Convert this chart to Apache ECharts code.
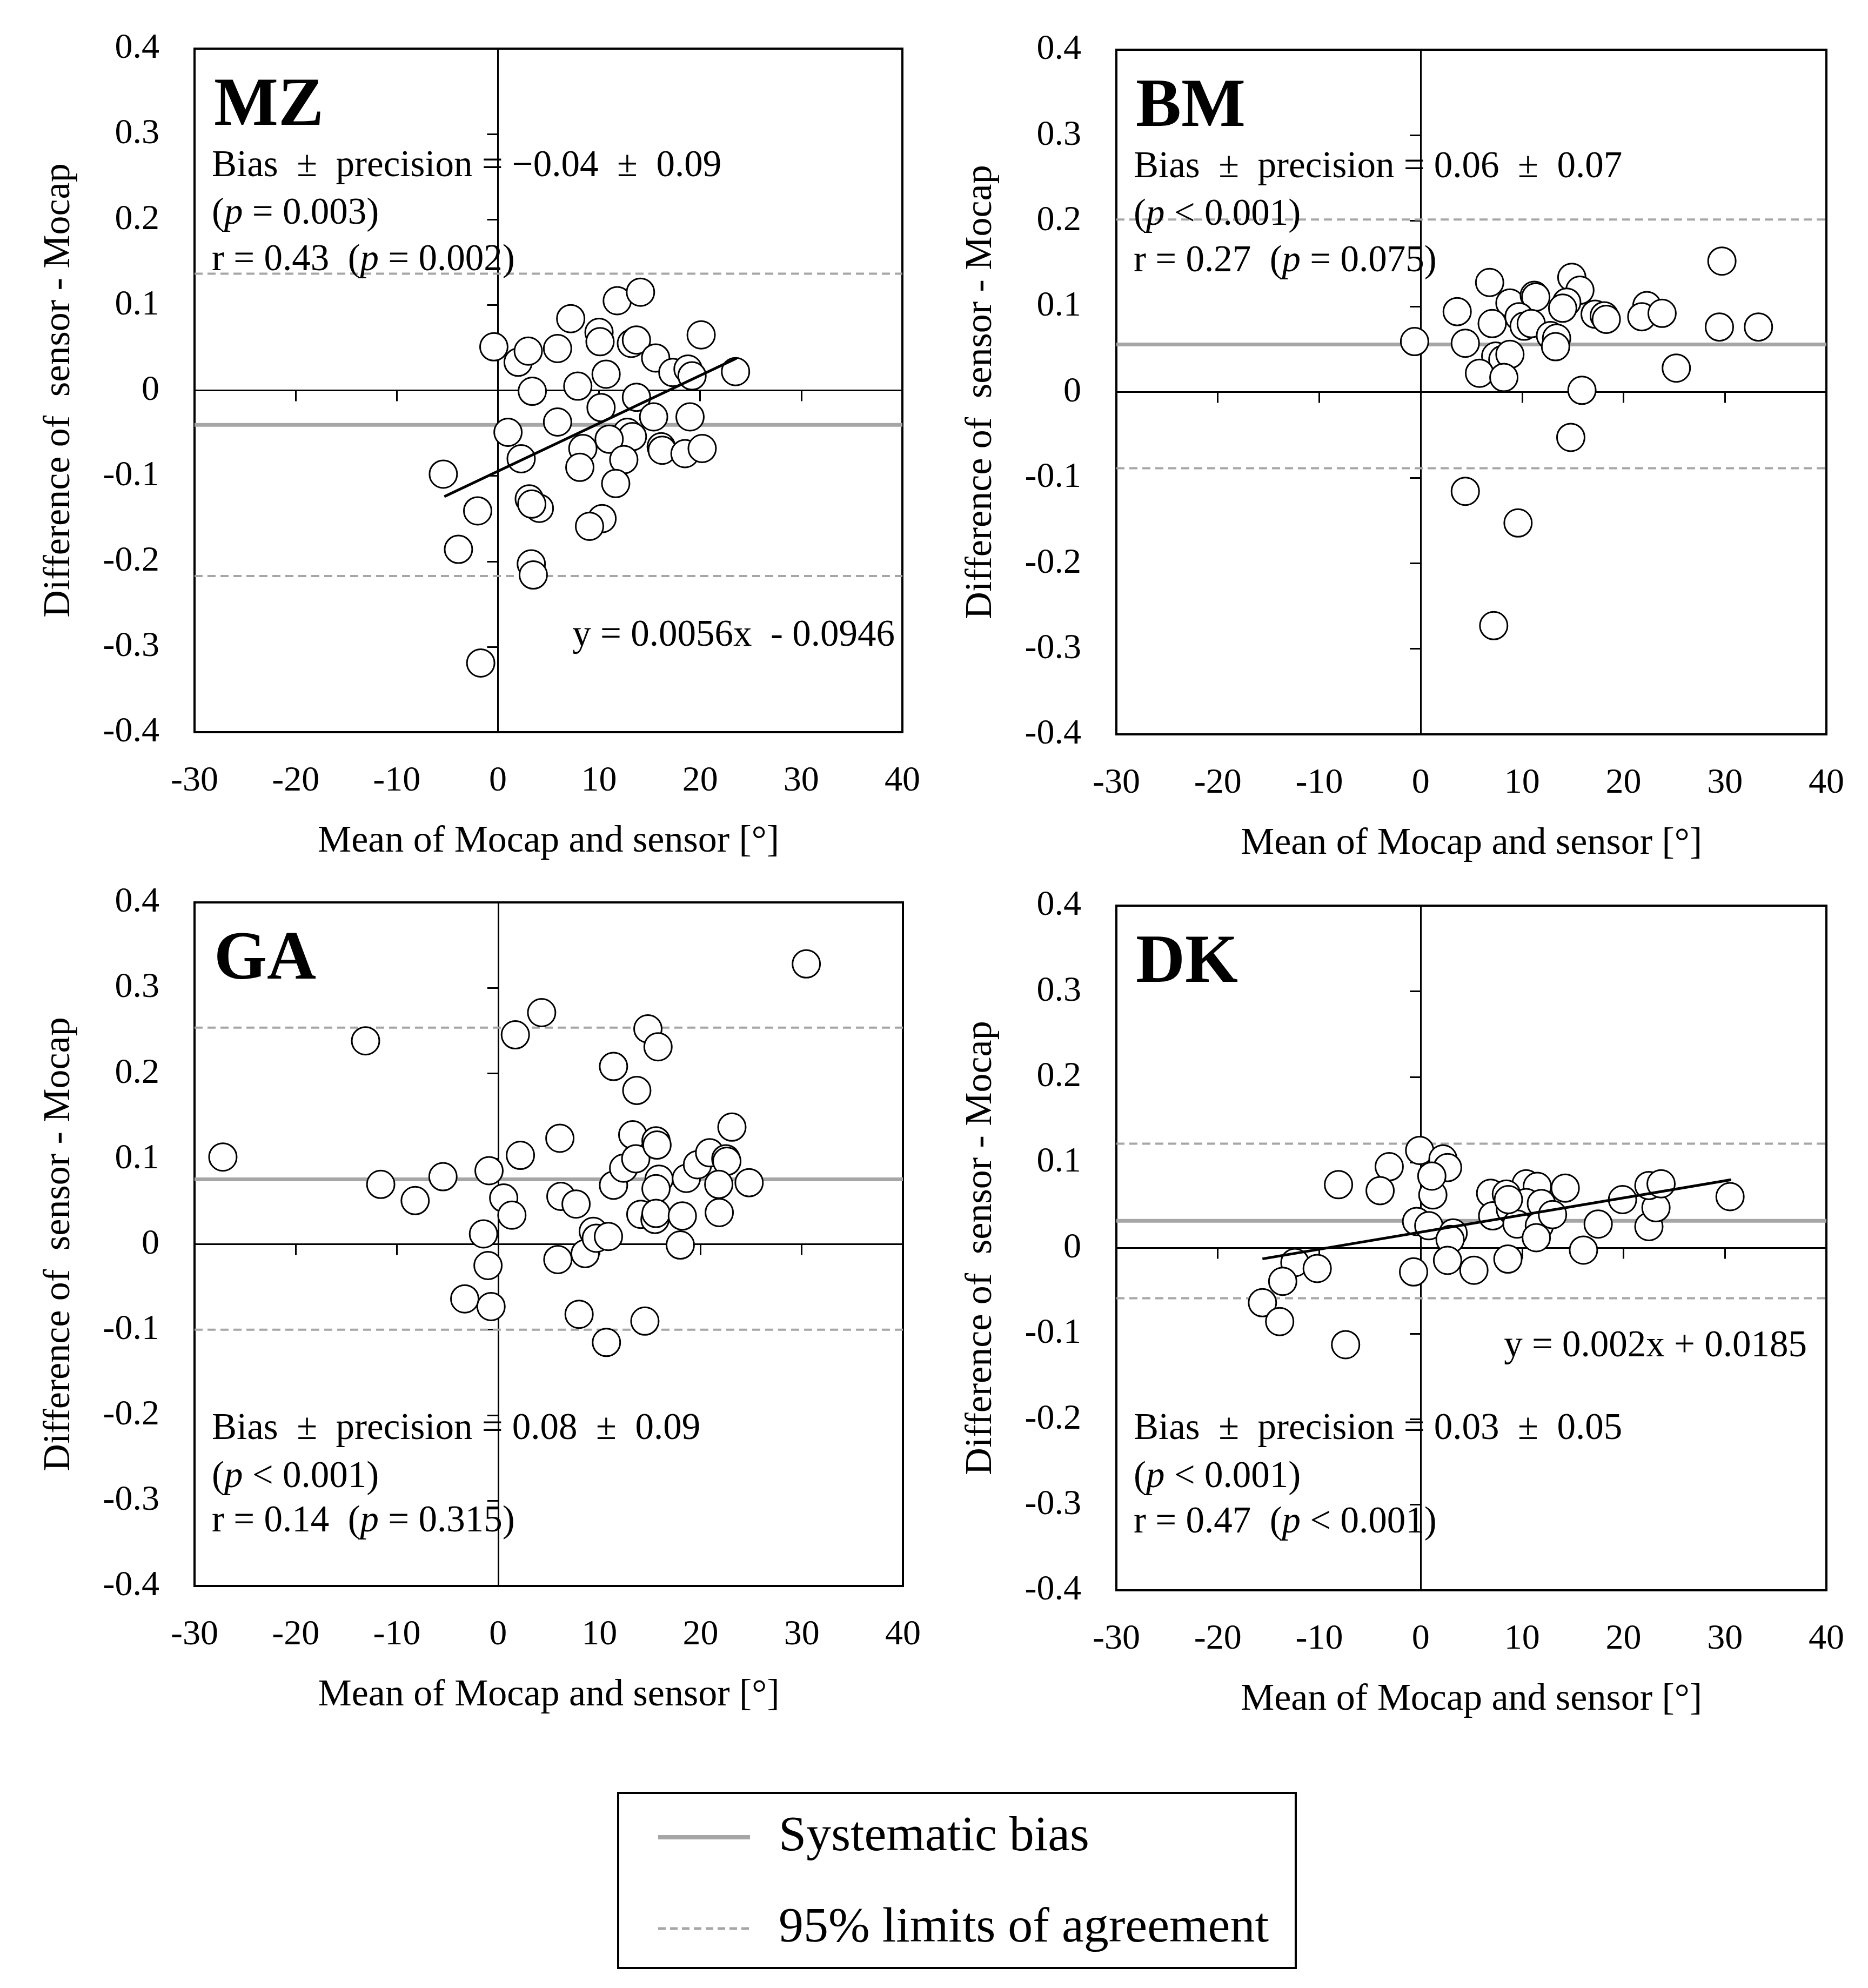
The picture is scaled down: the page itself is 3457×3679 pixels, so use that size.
<!DOCTYPE html>
<html><head><meta charset="utf-8">
<script src="https://cdn.jsdelivr.net/npm/echarts@6/dist/echarts.min.js"></script>
<style>html,body{margin:0;padding:0;background:#fff}#c{width:3457px;height:3679px}</style>
</head><body><div id="c"></div>
<script>
// ---------------- data ----------------
const panelNames = ['MZ', 'BM', 'GA', 'DK'];

const mzX = [-0.4, 2.0, 3.0, 5.9, 7.2, 10.0, 10.1, 11.8, 14.1, 13.2, 13.7, 15.6, 20.1, 17.3, 18.8, 19.2, 23.5, 3.4, 7.9, 10.7, 13.7, 10.2, 15.4, 19.0, 5.9, 1.0, 12.8, 13.3, 11.0, 16.15, 16.25, 18.5, 20.2, 8.4, 12.45, 2.3, 8.1, 11.65, 3.1, 4.1, 3.35, 10.3, 9.06, -5.4, -2.0, -3.9, 3.3, 3.5, -1.7];
const mzY = [0.051, 0.033, 0.046, 0.049, 0.084, 0.068, 0.057, 0.105, 0.115, 0.055, 0.059, 0.038, 0.065, 0.021, 0.025, 0.017, 0.022, -0.001, 0.005, 0.019, -0.008, -0.020, -0.031, -0.031, -0.037, -0.049, -0.049, -0.054, -0.057, -0.066, -0.070, -0.074, -0.068, -0.068, -0.081, -0.080, -0.090, -0.109, -0.127, -0.138, -0.133, -0.150, -0.159, -0.098, -0.141, -0.186, -0.203, -0.216, -0.319];

const bmX = [-0.6, 3.6, 6.8, 4.4, 8.8, 11.2, 11.35, 14.9, 15.7, 14.4, 14.0, 17.2, 18.1, 18.3, 22.3, 21.8, 23.8, 29.7, 29.45, 33.3, 25.2, 15.9, 7.05, 9.7, 10.2, 10.9, 12.8, 13.4, 13.3, 7.4, 8.1, 8.8, 5.8, 8.2, 14.8, 4.4, 9.6, 7.2];
const bmY = [0.059, 0.094, 0.128, 0.057, 0.104, 0.113, 0.111, 0.134, 0.119, 0.105, 0.098, 0.091, 0.089, 0.085, 0.101, 0.088, 0.092, 0.153, 0.076, 0.076, 0.028, 0.002, 0.080, 0.088, 0.077, 0.080, 0.066, 0.063, 0.053, 0.042, 0.038, 0.044, 0.022, 0.017, -0.053, -0.116, -0.153, -0.273];

const gaX = [30.45, 4.3, 1.7, -13.1, 14.8, 15.8, 11.4, 13.7, -27.2, -11.6, -8.2, -5.45, -0.9, 2.2, 6.1, 0.55, 1.36, -1.45, -1.0, -3.3, -0.7, 6.2, 7.7, 5.9, 8.6, 9.4, 9.7, 10.9, 8.0, 10.7, 14.5, 11.4, 12.4, 13.3, 13.6, 15.6, 15.7, 15.9, 15.6, 14.1, 15.5, 15.6, 18.2, 18.0, 18.6, 19.7, 20.9, 22.5, 22.6, 21.8, 21.85, 23.1, 24.8];
const gaY = [0.328, 0.271, 0.245, 0.238, 0.252, 0.231, 0.208, 0.180, 0.102, 0.070, 0.051, 0.079, 0.086, 0.104, 0.124, 0.054, 0.034, 0.012, -0.025, -0.064, -0.073, 0.056, 0.047, -0.018, -0.011, 0.015, 0.007, 0.009, -0.082, -0.115, -0.090, 0.069, 0.089, 0.128, 0.100, 0.121, 0.116, 0.076, 0.065, 0.035, 0.029, 0.036, 0.033, -0.001, 0.077, 0.093, 0.107, 0.100, 0.097, 0.070, 0.037, 0.137, 0.072];

const dkX = [-0.1, 2.2, 2.65, -3.1, -4.0, 1.2, 1.1, -0.4, 0.8, 3.2, 2.9, 2.65, -0.7, 5.25, 8.6, 6.9, 7.1, 8.85, 10.4, 11.5, 10.4, 8.45, 11.9, 9.5, 11.7, 11.4, 13.0, 14.25, 17.5, 16.05, 19.9, 22.5, 23.2, 22.5, 23.7, 30.5, -12.4, -10.2, -13.6, -15.6, -13.9, -7.4, -8.1, 8.65];
const dkY = [0.114, 0.104, 0.094, 0.095, 0.067, 0.062, 0.084, 0.031, 0.026, 0.0175, 0.010, -0.0145, -0.028, -0.026, -0.013, 0.064, 0.0375, 0.045, 0.075, 0.072, 0.053, 0.063, 0.052, 0.028, 0.026, 0.012, 0.039, 0.070, 0.028, -0.0025, 0.0565, 0.025, 0.047, 0.073, 0.075, 0.060, -0.017, -0.024, -0.039, -0.064, -0.086, -0.113, 0.074, 0.0565];

const panelX = [mzX, bmX, gaX, dkX];
const panelY = [mzY, bmY, gaY, dkY];

const biasVals = [-0.0403, 0.0555, 0.0759, 0.0318];
const loaUpper = [0.1366, 0.2016, 0.2534, 0.1218];
const loaLower = [-0.2173, -0.0890, -0.1000, -0.0588];

const fitSlope = [0.0056, null, null, 0.002];
const fitIntercept = [-0.0946, null, null, 0.0185];
const fitXRange = [[-5.3, 23.6], null, null, [-15.6, 30.6]];
const fitLabels = ['y = 0.0056x  - 0.0946', '', '', 'y = 0.002x + 0.0185'];

const biasText = ['\u2212' + '0.04', '0.06', '0.08', '0.03'];
const precText = ['0.09', '0.07', '0.09', '0.05'];
const pBiasText = ['= 0.003', '< 0.001', '< 0.001', '< 0.001'];
const rText = ['0.43', '0.27', '0.14', '0.47'];
const pRText = ['= 0.002', '= 0.075', '= 0.315', '< 0.001'];

const xAxisMin = -30, xAxisMax = 40, xAxisStep = 10;
const yAxisMin = -0.4, yAxisMax = 0.4, yAxisStep = 0.1;
const xTitle = 'Mean of Mocap and sensor [\u00b0]';
const yTitle = 'Difference of  sensor - Mocap';
const legendNames = ['Systematic bias', '95% limits of agreement'];

// ---------------- layout ----------------
const FONT = 'Liberation Serif';
const grids = [
  {left: 360, top: 90, width: 1310, height: 1265},
  {left: 2066, top: 92, width: 1314, height: 1267},
  {left: 360, top: 1670, width: 1311, height: 1265},
  {left: 2066, top: 1676, width: 1314, height: 1267}
];
const statLinesY = [[308, 396, 482], [310, 398, 484], [2645, 2734, 2816], [2645, 2734, 2818]];
const fitLabelPos = [[1656, 1177], null, null, [3344, 2492]];

const GRAY = '#a6a6a6';
const option = {
  backgroundColor: '#fff',
  animation: false,
  grid: grids.map(g => Object.assign({show: true, borderColor: '#000', borderWidth: 4,
    backgroundColor: 'transparent', containLabel: false, outerBoundsMode: 'none'}, g)),
  xAxis: [], yAxis: [], series: [],
  legend: {
    left: 1144, top: 3318, orient: 'vertical',
    data: [
      {name: legendNames[0], lineStyle: {color: GRAY, width: 8, type: 'solid'}},
      {name: legendNames[1], lineStyle: {color: GRAY, width: 5, type: [14, 8]}}
    ],
    itemWidth: 170, itemHeight: 30, itemGap: 77,
    padding: [36, 50, 27, 70],
    borderColor: '#000', borderWidth: 4,
    itemStyle: {opacity: 0},
    textStyle: {fontSize: 92, fontFamily: FONT, color: '#000', padding: [0, 0, 0, 48]}
  },
  graphic: []
};

panelNames.forEach((name, i) => {
  const labelStyle = {fontSize: 66, fontFamily: FONT, color: '#000'};
  option.xAxis.push({
    gridIndex: i, type: 'value', min: xAxisMin, max: xAxisMax, interval: xAxisStep, position: 'bottom',
    axisLine: {show: false, onZero: false}, axisTick: {show: false}, splitLine: {show: false},
    axisLabel: Object.assign({margin: 58}, labelStyle),
    name: xTitle, nameLocation: 'middle', nameGap: 168,
    nameTextStyle: {fontSize: 70, fontFamily: FONT, color: '#000'}
  });
  option.xAxis.push({
    gridIndex: i, type: 'value', min: xAxisMin, max: xAxisMax, interval: xAxisStep, position: 'bottom',
    axisLine: {show: true, onZero: true, lineStyle: {color: '#000', width: 3}},
    axisTick: {show: true, inside: false, length: 20, lineStyle: {color: '#000', width: 3}},
    axisLabel: {show: false}, splitLine: {show: false}
  });
  option.yAxis.push({
    gridIndex: i, type: 'value', min: yAxisMin, max: yAxisMax, interval: yAxisStep, position: 'left',
    axisLine: {show: false, onZero: false}, axisTick: {show: false}, splitLine: {show: false},
    axisLabel: Object.assign({margin: 65}, labelStyle),
    name: yTitle, nameLocation: 'middle', nameGap: 215,
    nameTextStyle: {fontSize: 70, fontFamily: FONT, color: '#000'}
  });
  option.yAxis.push({
    gridIndex: i, type: 'value', min: yAxisMin, max: yAxisMax, interval: yAxisStep, position: 'left',
    axisLine: {show: true, onZero: true, lineStyle: {color: '#000', width: 3}},
    axisTick: {show: true, inside: false, length: 20, lineStyle: {color: '#000', width: 3}},
    axisLabel: {show: false}, splitLine: {show: false}
  });
  const xi = 2 * i, yi = 2 * i;
  option.series.push({
    name: legendNames[0], type: 'line', xAxisIndex: xi, yAxisIndex: yi, symbol: 'none', silent: true, z: 2,
    lineStyle: {color: GRAY, width: 7}, itemStyle: {color: GRAY},
    data: [[xAxisMin, biasVals[i]], [xAxisMax, biasVals[i]]]
  });
  [loaUpper[i], loaLower[i]].forEach(v => {
    option.series.push({
      name: legendNames[1], type: 'line', xAxisIndex: xi, yAxisIndex: yi, symbol: 'none', silent: true, z: 2,
      lineStyle: {color: GRAY, width: 4, type: [15, 9]}, itemStyle: {color: GRAY},
      data: [[xAxisMin, v], [xAxisMax, v]]
    });
  });
  option.series.push({
    name: name, type: 'scatter', xAxisIndex: xi, yAxisIndex: yi, symbol: 'circle', symbolSize: 51, z: 3,
    itemStyle: {color: '#fff', borderColor: '#000', borderWidth: 3, opacity: 1},
    data: panelX[i].map((x, k) => [x, panelY[i][k]])
  });
  if (fitSlope[i] !== null) {
    option.series.push({
      name: name + ' fit', type: 'line', xAxisIndex: xi, yAxisIndex: yi, symbol: 'none', silent: true, z: 4,
      lineStyle: {color: '#000', width: 5},
      data: fitXRange[i].map(x => [x, fitSlope[i] * x + fitIntercept[i]])
    });
    option.graphic.push({
      type: 'text', x: fitLabelPos[i][0], y: fitLabelPos[i][1], z: 10,
      style: {text: fitLabels[i], fontSize: 69, fontFamily: FONT, fill: '#000', align: 'right', verticalAlign: 'middle'}
    });
  }
  const g = grids[i];
  const tx = g.left + 33;
  option.graphic.push({
    type: 'text', x: tx + 3, y: g.top + 108, z: 10,
    style: {text: name, fontSize: 126, fontWeight: 'bold', fontFamily: FONT, fill: '#000', align: 'left', verticalAlign: 'middle'}
  });
  const rich = {
    n: {fontSize: 69, fontFamily: FONT, fill: '#000', color: '#000'},
    i: {fontSize: 69, fontFamily: FONT, fontStyle: 'italic', fill: '#000', color: '#000'}
  };
  const lines = [
    '{n|Bias  \u00b1  precision = ' + biasText[i] + '  \u00b1  ' + precText[i] + '}',
    '{n|(}{i|p}{n| ' + pBiasText[i] + ')}',
    '{n|r = ' + rText[i] + '  (}{i|p}{n| ' + pRText[i] + ')}'
  ];
  lines.forEach((t, k) => {
    option.graphic.push({
      type: 'text', x: tx - 1, y: statLinesY[i][k], z: 10,
      style: {text: t, rich: rich, fontSize: 69, fontFamily: FONT, fill: '#000', align: 'left', verticalAlign: 'middle'}
    });
  });
});

const chart = echarts.init(document.getElementById('c'), null, {renderer: 'canvas'});
chart.setOption(option);
</script>
</body></html>
